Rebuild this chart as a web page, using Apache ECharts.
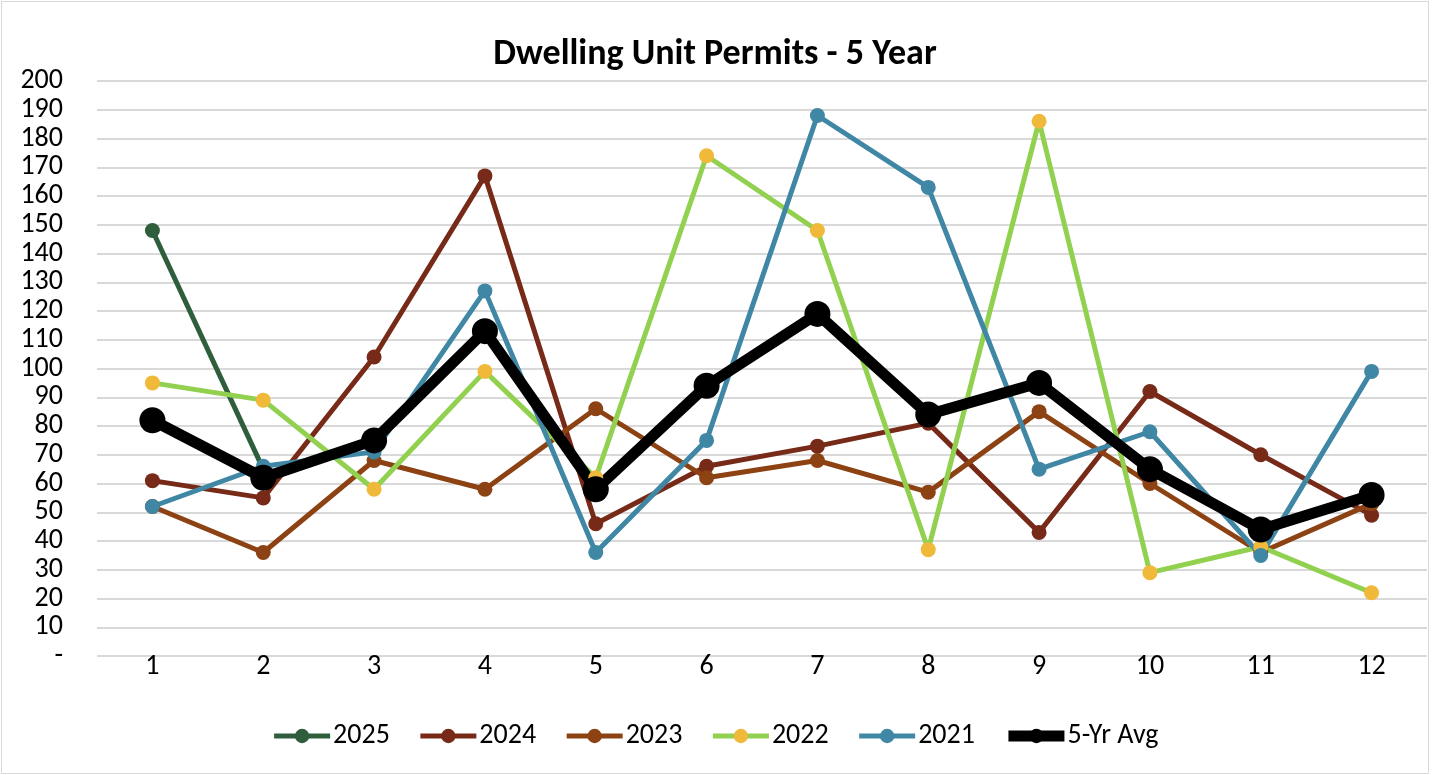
<!DOCTYPE html>
<html lang="en">
<head>
    <meta charset="UTF-8">
    <title>Dwelling Unit Permits</title>
    <style>
        body { margin: 0; background: #fff; }
        #chart { width: 1426px; height: 771px; border: 1px solid #d9d9d9; margin: 1px 0 0 1px; }
    </style>
</head>
<body>
<div id="chart"></div>
<script src="https://cdn.jsdelivr.net/npm/echarts@6/dist/echarts.min.js"></script>
<script>
    var months = ['1', '2', '3', '4', '5', '6', '7', '8', '9', '10', '11', '12'];
    var y2025 = [148, 65, null, null, null, null, null, null, null, null, null, null];
    var y2024 = [61, 55, 104, 167, 46, 66, 73, 81, 43, 92, 70, 49];
    var y2023 = [52, 36, 68, 58, 86, 62, 68, 57, 85, 60, 36, 53];
    var y2022 = [95, 89, 58, 99, 62, 174, 148, 37, 186, 29, 38, 22];
    var y2021 = [52, 66, 71, 127, 36, 75, 188, 163, 65, 78, 35, 99];
    var avg5 = [82, 62, 75, 113, 58, 94, 119, 84, 95, 65, 44, 56];

    var font = "Carlito, 'Liberation Sans Narrow', 'Noto Sans'";
    var chart = echarts.init(document.getElementById('chart'));

    function yearSeries(name, data, lineColor, dotColor) {
        return {
            name: name,
            type: 'line',
            data: data,
            symbol: 'circle',
            symbolSize: 15,
            lineStyle: { width: 5, color: lineColor },
            itemStyle: { color: dotColor || lineColor },
            emphasis: { disabled: true }
        };
    }

    var option = {
        animation: false,
        title: {
            text: 'Dwelling Unit Permits - 5 Year',
            left: 'center',
            top: 30,
            textStyle: { fontFamily: font, fontSize: 36, fontWeight: 'bold', color: '#000' }
        },
        legend: {
            bottom: 18,
            left: 'center',
            itemWidth: 56,
            itemHeight: 18,
            itemGap: 28,
            lineStyle: { width: 'inherit' },
            textStyle: { fontFamily: font, fontSize: 28, color: '#000', padding: [0, 0, 0, -2] },
            data: ['2025', '2024', '2023', '2022', '2021', '5-Yr Avg']
        },
        grid: { left: 95, width: 1330, top: 79, height: 575, containLabel: false },
        xAxis: {
            type: 'category',
            data: months,
            boundaryGap: true,
            axisLine: { show: false },
            axisTick: { show: false },
            axisLabel: { fontFamily: font, fontSize: 28, color: '#000', margin: -3 }
        },
        yAxis: {
            type: 'value',
            min: 0,
            max: 200,
            interval: 10,
            axisLine: { show: false },
            axisTick: { show: false },
            splitLine: { lineStyle: { color: '#d9d9d9', width: 2 } },
            axisLabel: {
                fontFamily: font, fontSize: 28, color: '#000', margin: 34,
                formatter: function (v) { return v === 0 ? '-' : v; }
            }
        },
        series: [
            yearSeries('2025', y2025, '#2E5E3B'),
            yearSeries('2024', y2024, '#772A17'),
            yearSeries('2023', y2023, '#8C4212'),
            yearSeries('2022', y2022, '#92D050', '#F0B93A'),
            yearSeries('2021', y2021, '#3F87A4'),
            {
                name: '5-Yr Avg',
                type: 'line',
                data: avg5,
                symbol: 'circle',
                symbolSize: 26,
                lineStyle: { width: 11, color: '#000' },
                itemStyle: { color: '#000' },
                emphasis: { disabled: true }
            }
        ]
    };
    chart.setOption(option);
</script>
</body>
</html>
